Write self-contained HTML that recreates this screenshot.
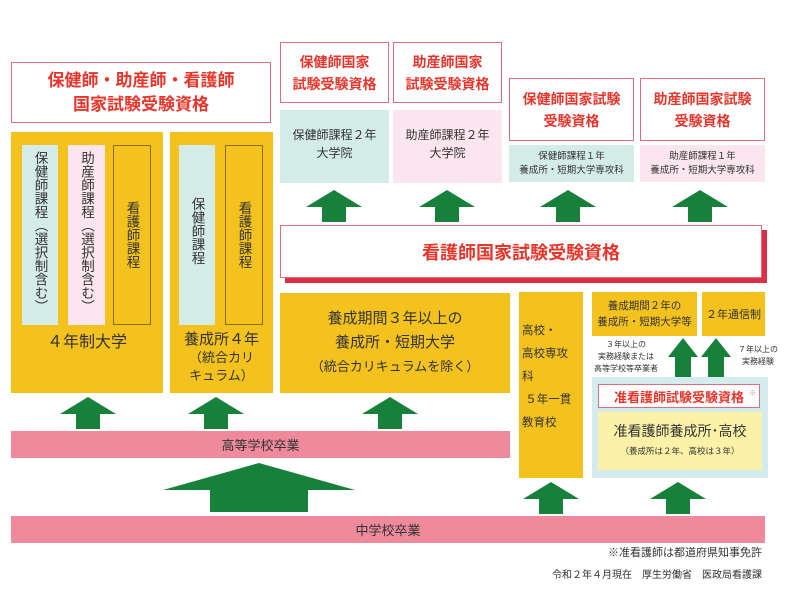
<!DOCTYPE html>
<html><head><meta charset="utf-8"><style>
body{margin:0;width:786px;height:595px;background:#fff;position:relative;overflow:hidden;font-family:"Liberation Sans","Noto Sans CJK JP",sans-serif;color:#333}
.a{position:absolute;box-sizing:border-box}
.c{display:flex;align-items:center;justify-content:center;text-align:center;flex-direction:column}
.rb{background:#fff;border:1.5px solid #d9707a;color:#e8352b;font-weight:bold}
.y{background:#f3c21e}
.b{background:#d4ece7}
.p{background:#fbe5ee}
.v{writing-mode:vertical-rl;font-size:13.5px;line-height:15px;display:flex;align-items:center;padding-top:6px}
.pk{background:#ee8a9c}
</style></head><body>
<div class="a rb c" style="left:11px;top:62px;width:260px;height:61px;font-size:17px;line-height:24px">保健師・助産師・看護師<br>国家試験受験資格</div>
<div class="a y" style="left:11px;top:132px;width:152px;height:261px"></div>
<div class="a y" style="left:170px;top:132px;width:103px;height:261px"></div>
<div class="a b v" style="left:22px;top:145px;width:36px;height:180px">保健師課程（選択制含む）</div>
<div class="a p v" style="left:68px;top:145px;width:37px;height:180px">助産師課程（選択制含む）</div>
<div class="a v" style="left:113px;top:145px;width:38px;height:180px;border:1px solid #8a6a10;padding-top:55px">看護師課程</div>
<div class="a b v" style="left:179px;top:145px;width:36px;height:180px;padding-top:52px">保健師課程</div>
<div class="a v" style="left:225px;top:145px;width:38px;height:180px;border:1px solid #8a6a10;padding-top:55px">看護師課程</div>
<div class="a c" style="left:11px;top:328px;width:152px;height:24px;font-size:16px">４年制大学</div>
<div class="a c" style="left:170px;top:328px;width:103px;height:60px;font-size:13px;line-height:18px"><span style="font-size:15px">養成所４年</span>（統合カリ<br>キュラム）</div>

<div class="a rb c" style="left:280px;top:42px;width:109px;height:61px;font-size:14px;line-height:22px">保健師国家<br>試験受験資格</div>
<div class="a rb c" style="left:393px;top:42px;width:109px;height:61px;font-size:14px;line-height:22px">助産師国家<br>試験受験資格</div>
<div class="a b c" style="left:280px;top:110px;width:109px;height:73px;font-size:12px;line-height:18px;justify-content:flex-start;padding-top:16px">保健師課程２年<br>大学院</div>
<div class="a p c" style="left:393px;top:110px;width:109px;height:73px;font-size:12px;line-height:18px;justify-content:flex-start;padding-top:16px">助産師課程２年<br>大学院</div>
<div class="a rb c" style="left:509px;top:78px;width:125px;height:63px;font-size:14px;line-height:22px">保健師国家試験<br>受験資格</div>
<div class="a rb c" style="left:640px;top:78px;width:125px;height:63px;font-size:14px;line-height:22px">助産師国家試験<br>受験資格</div>
<div class="a b c" style="left:509px;top:145px;width:125px;height:37px;font-size:9.5px;line-height:14px">保健師課程１年<br>養成所・短期大学専攻科</div>
<div class="a p c" style="left:640px;top:145px;width:125px;height:37px;font-size:9.5px;line-height:14px">助産師課程１年<br>養成所・短期大学専攻科</div>

<div class="a" style="left:285px;top:230px;width:482px;height:53px;background:#dc2f45"></div>
<div class="a rb c" style="left:280px;top:225px;width:482px;height:53px;font-size:18px">看護師国家試験受験資格</div>

<div class="a y c" style="left:280px;top:293px;width:230px;height:100px;font-size:15px;line-height:24px"><div>養成期間３年以上の<br>養成所・短期大学<br><span style="font-size:13px">（統合カリキュラムを除く）</span></div></div>
<div class="a y" style="left:519px;top:292px;width:64px;height:186px;font-size:11.5px;line-height:23px;padding:28px 0 0 3px">高校・<br>高校専攻<br>科<br>&nbsp;５年一貫<br>教育校</div>
<div class="a y c" style="left:592px;top:292px;width:105px;height:44px;font-size:10.5px;line-height:16px">養成期間２年の<br>養成所・短期大学等</div>
<div class="a y c" style="left:702px;top:292px;width:63px;height:44px;font-size:11px">２年通信制</div>
<div class="a c" style="left:586px;top:337px;width:80px;height:40px;font-size:8px;line-height:12px">３年以上の<br>実務経験または<br>高等学校等卒業者</div>
<div class="a c" style="left:733px;top:341px;width:50px;height:30px;font-size:8px;line-height:12px">７年以上の<br>実務経験</div>

<div class="a" style="left:592px;top:377px;width:176px;height:101px;background:#d4ecee"></div>
<div class="a rb c" style="left:598px;top:384px;width:162px;height:24px;font-size:13px">准看護師試験受験資格<span style="position:absolute;right:3px;top:3px;font-size:7px;color:#e88">※</span></div>
<div class="a c" style="left:598px;top:412px;width:164px;height:58px;background:#fbf2a8;font-size:14px;line-height:20px">准看護師養成所･高校<br><span style="font-size:8.5px">（養成所は２年、高校は３年）</span></div>

<div class="a pk c" style="left:11px;top:431px;width:499px;height:27px;font-size:13px">高等学校卒業</div>
<div class="a pk c" style="left:11px;top:516px;width:754px;height:27px;font-size:13px">中学校卒業</div>
<div class="a" style="right:24px;top:544px;font-size:11px">※准看護師は都道府県知事免許</div>
<div class="a" style="right:24px;top:566px;font-size:10px">令和２年４月現在　厚生労働省　医政局看護課</div>

<svg class="a" style="left:0;top:0" width="786" height="595">
<defs><path id="ar" d="M-28,17 L0,0 L28,17 L12,17 L12,32 L-12,32 L-12,17 Z" fill="#17803b"/>
<path id="as" d="M-15,19 L0,0 L15,19 L8,19 L8,39 L-8,39 L-8,19 Z" fill="#17803b"/></defs>
<use href="#ar" x="334" y="190"/><use href="#ar" x="447" y="190"/><use href="#ar" x="568" y="190"/><use href="#ar" x="700" y="190"/>
<use href="#ar" x="88" y="397"/><use href="#ar" x="216" y="397"/><use href="#ar" x="390" y="397"/>
<use href="#ar" x="551" y="482"/><use href="#ar" x="678" y="482"/>
<use href="#as" x="683" y="338"/><use href="#as" x="716" y="338"/>
<path d="M163,490 L259,463 L355,490 L308,490 L308,512 L210,512 L210,490 Z" fill="#17803b"/>
</svg>
</body></html>
